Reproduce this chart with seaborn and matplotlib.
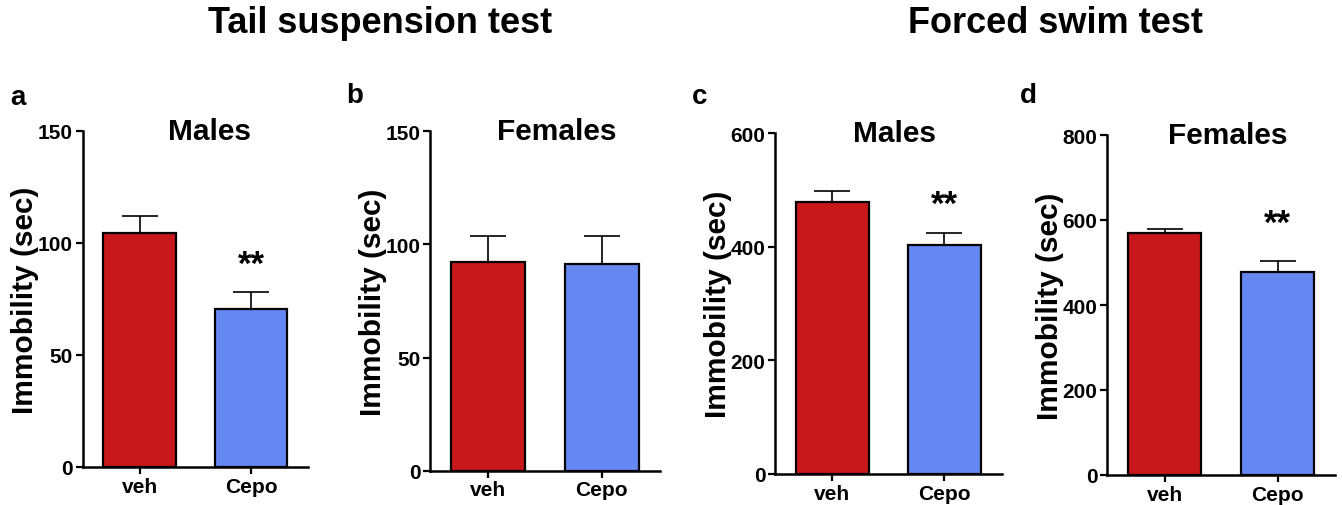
import matplotlib
matplotlib.use("Agg")
import matplotlib.pyplot as plt
import seaborn as sns
import pandas as pd

sns.set_theme(style="ticks")
plt.rcParams['font.family'] = ['Liberation Sans', 'DejaVu Sans']
plt.rcParams['font.weight'] = 'bold'
plt.rcParams['text.color'] = 'black'
plt.rcParams['axes.labelcolor'] = 'black'
plt.rcParams['xtick.color'] = 'black'
plt.rcParams['ytick.color'] = 'black'

# ---- data ----
groups = ["veh", "Cepo"]
panel_letters = ["a", "b", "c", "d"]
panel_titles = ["Males", "Females", "Males", "Females"]
test_titles = ["Tail suspension test", "Forced swim test"]
tst_males_mean = [104.3, 70.5]
tst_males_sem = [7.7, 7.5]
tst_females_mean = [92.4, 91.3]
tst_females_sem = [11.2, 12.3]
fst_males_mean = [478, 403.5]
fst_males_sem = [19.4, 21.2]
fst_females_mean = [568.6, 477]
fst_females_sem = [11.0, 25.7]
y_max = [150, 150, 600, 800]
y_ticks = [[0, 50, 100, 150], [0, 50, 100, 150], [0, 200, 400, 600], [0, 200, 400, 600, 800]]
significance = [["", "**"], ["", ""], ["", "**"], ["", "**"]]
ylabel = "Immobility (sec)"

means = [tst_males_mean, tst_females_mean, fst_males_mean, fst_females_mean]
sems = [tst_males_sem, tst_females_sem, fst_males_sem, fst_females_sem]

colors = ["#C8181C", "#6688F2"]

W, H = 1342, 506
fig = plt.figure(figsize=(W / 100, H / 100), dpi=100)

# axes boxes in pixels: left, right, top, bottom
boxes = [(82.7, 308, 131.7, 468), (430, 660, 132.3, 471.7),
         (775, 1001.7, 134, 475), (1107.3, 1335, 136, 476)]
title_x = [0.565, 0.552, 0.529, 0.53]
letter_pos = [(18, 98), (355, 96), (700, 97), (1028, 96)]
star_off = [20, 0, 20, 27]

for i in range(4):
    l, r, t, b = boxes[i]
    ax = fig.add_axes([l / W, 1 - b / H, (r - l) / W, (b - t) / H])
    df = pd.DataFrame({"group": groups, "value": means[i]})
    sns.barplot(data=df, x="group", y="value", hue="group", palette=colors,
                edgecolor="black", linewidth=1.6, width=0.65, ax=ax,
                legend=False, saturation=1)
    ax.errorbar(range(len(groups)), means[i], yerr=[[0] * len(groups), sems[i]],
                fmt="none", ecolor="black", elinewidth=1.2, capsize=13,
                capthick=1.2, zorder=1)
    for j, s in enumerate(significance[i]):
        if s:
            ax.annotate(s, xy=(j, means[i][j] + sems[i][j]), xytext=(0, star_off[i]),
                        textcoords="offset points", ha="center", va="center",
                        fontsize=25, fontweight="bold", color="black")
    ax.set_xlim(-0.51, 1.51)
    ax.set_ylim(0, y_max[i])
    ax.set_yticks(y_ticks[i])
    ax.set_xlabel("")
    ax.set_ylabel(ylabel, fontsize=21.5, fontweight="bold", labelpad=-1)
    ax.tick_params(axis="both", labelsize=15, width=1.6, length=5, color="black",
                   labelcolor="black", direction="out", pad=2)
    for lab in ax.get_xticklabels() + ax.get_yticklabels():
        lab.set_fontweight("bold")
    ax.spines["right"].set_visible(False)
    ax.spines["top"].set_visible(False)
    ax.spines["left"].set_linewidth(1.8)
    ax.spines["bottom"].set_linewidth(1.8)
    ax.spines["left"].set_color("black")
    ax.spines["bottom"].set_color("black")
    ax.text(title_x[i], 1.0, panel_titles[i], transform=ax.transAxes,
            ha="center", va="center", fontsize=21.5, fontweight="bold")
    lx, ly = letter_pos[i]
    fig.text(lx / W, 1 - ly / H, panel_letters[i], ha="center", va="center",
             fontsize=20, fontweight="bold")

fig.text(380 / W, 1 - 24 / H, test_titles[0], ha="center", va="center",
         fontsize=26, fontweight="bold")
fig.text(1055 / W, 1 - 24 / H, test_titles[1], ha="center", va="center",
         fontsize=26, fontweight="bold")

fig.savefig("out.png", dpi=100, facecolor="white")
